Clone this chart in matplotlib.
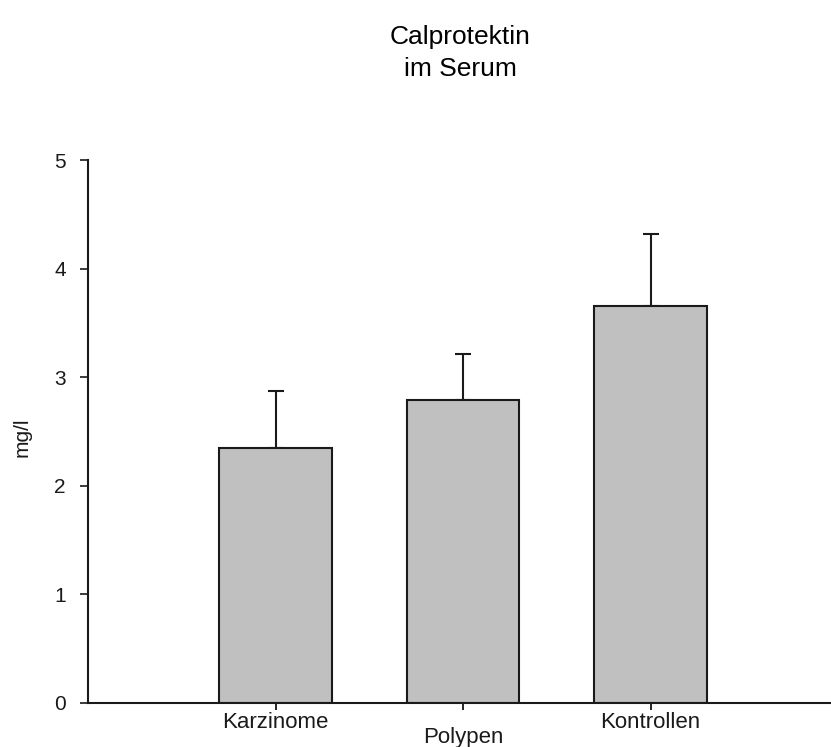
import matplotlib
matplotlib.use('Agg')
import matplotlib.pyplot as plt

categories = ['Karzinome', 'Polypen', 'Kontrollen']
means = [2.35, 2.79, 3.66]
errors = [0.52, 0.42, 0.66]
label_drop = [0, 1, 0]   # Polypen label sits lower in the original
yticks = [0, 1, 2, 3, 4, 5]

plt.rcParams['font.family'] = ['Liberation Sans', 'DejaVu Sans']

W, H = 831, 747
fig = plt.figure(figsize=(W / 100, H / 100), dpi=100)
ax = fig.add_axes([88 / W, 44 / H, 750 / W, 543 / H])

xpos = [1, 2, 3]
ax.bar(xpos, means, width=0.6, color='#c0c0c0', edgecolor='#1a1a1a', linewidth=1.5, zorder=2)
ax.errorbar(xpos, means, yerr=[[0] * 3, errors], fmt='none', ecolor='#1a1a1a',
            elinewidth=1.5, capsize=5.8, capthick=1.5, zorder=1)

ax.set_xlim(0, 4)
ax.set_ylim(0, 5)
ax.set_yticks(yticks)
ax.set_xticks(xpos)
ax.set_xticklabels([])
ax.tick_params(axis='y', direction='out', length=6, width=1.2, pad=10, labelsize=15, colors='#1a1a1a')
ax.tick_params(axis='x', direction='out', length=5, width=1.2)
for s in ['top', 'right']:
    ax.spines[s].set_visible(False)
for s in ['left', 'bottom']:
    ax.spines[s].set_linewidth(1.5)
    ax.spines[s].set_color('#1a1a1a')

for x, lab, d in zip(xpos, categories, label_drop):
    ax.annotate(lab, xy=(x, 0), xycoords=('data', 'axes fraction'),
                xytext=(0, -6.5 - 11 * d), textcoords='offset points',
                ha='center', va='top', fontsize=16, color='#1a1a1a')

ax.set_ylabel('mg/l', fontsize=15, color='#1a1a1a')
ax.yaxis.set_label_coords(-56 / 750, 0.49)

fig.text(460 / W, 1 - 37 / H, 'Calprotektin', ha='center', va='center', fontsize=19)
fig.text(460 / W, 1 - 69 / H, 'im Serum', ha='center', va='center', fontsize=19)

fig.savefig('out.png', dpi=100)
